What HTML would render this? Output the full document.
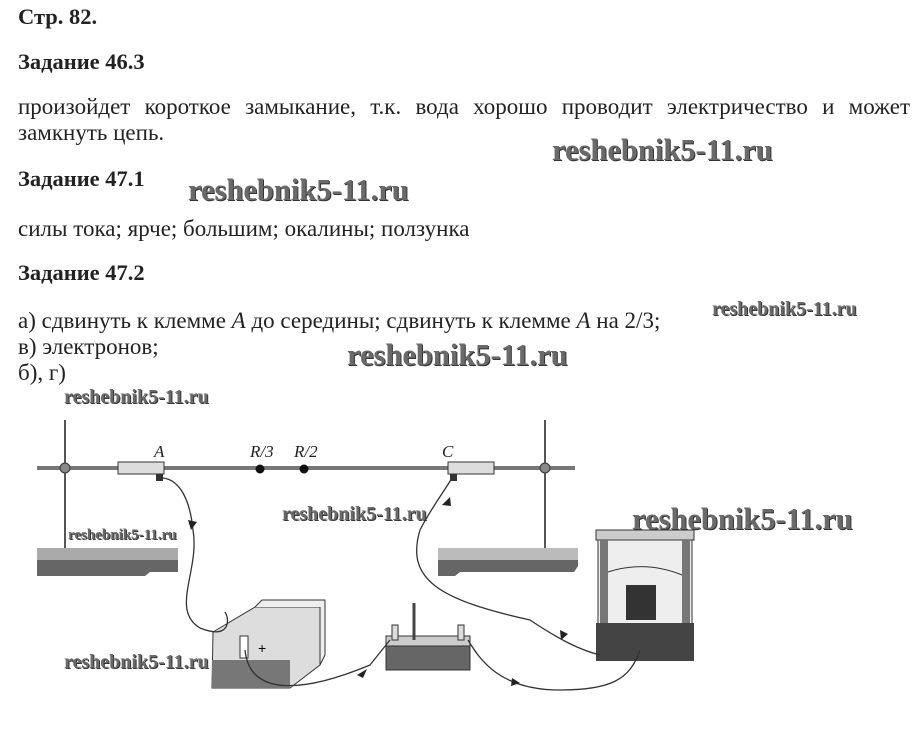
<!DOCTYPE html>
<html><head><meta charset="utf-8"><style>
html,body{margin:0;padding:0;background:#fff;width:922px;height:740px;overflow:hidden;position:relative}
.t{position:absolute;font-family:"Liberation Serif",serif;font-size:23px;color:#222;white-space:nowrap;line-height:1}
.b{font-weight:bold;font-size:22.5px}
.w{position:absolute;font-family:"Liberation Serif",serif;font-weight:bold;color:#6a6a6a;white-space:nowrap;line-height:1;text-shadow:1px 1px 0 #333}
</style></head><body>
<div class="t b" style="left:18px;top:6px">Стр. 82.</div>
<div class="t b" style="left:18px;top:51px">Задание 46.3</div>
<div class="t" style="left:18px;top:95px;width:892px;text-align:justify;text-align-last:justify;white-space:normal">произойдет короткое замыкание, т.к. вода хорошо проводит электричество и может</div>
<div class="t" style="left:18px;top:121px">замкнуть цепь.</div>
<div class="t b" style="left:18px;top:168px">Задание 47.1</div>
<div class="t" style="left:18px;top:217px">силы тока; ярче; большим; окалины; ползунка</div>
<div class="t b" style="left:18px;top:262px">Задание 47.2</div>
<div class="t" style="left:18px;top:309px">а) сдвинуть к клемме <i>A</i> до середины; сдвинуть к клемме <i>A</i> на 2/3;</div>
<div class="t" style="left:18px;top:335px">в) электронов;</div>
<div class="t" style="left:18px;top:361px">б), г)</div>

<div class="w" style="left:552px;top:135px;font-size:30.5px">reshebnik5-11.ru</div>
<div class="w" style="left:188px;top:175px;font-size:30.5px">reshebnik5-11.ru</div>
<div class="w" style="left:712px;top:299px;font-size:20px">reshebnik5-11.ru</div>
<div class="w" style="left:347px;top:340px;font-size:30.5px">reshebnik5-11.ru</div>
<div class="w" style="left:64px;top:387px;font-size:20px">reshebnik5-11.ru</div>
<div class="w" style="left:282px;top:504px;font-size:20px">reshebnik5-11.ru</div>
<div class="w" style="left:632px;top:504px;font-size:30.5px">reshebnik5-11.ru</div>
<div class="w" style="left:68px;top:528px;font-size:15px">reshebnik5-11.ru</div>
<div class="w" style="left:64px;top:652px;font-size:20px">reshebnik5-11.ru</div>

<svg style="position:absolute;left:0;top:0" width="922" height="740">
<g stroke="#555" fill="none">
<line x1="65" y1="420" x2="65" y2="552" stroke-width="2"/>
<line x1="545" y1="420" x2="545" y2="552" stroke-width="2"/>
<line x1="37" y1="468" x2="575" y2="468" stroke-width="4" stroke="#777"/>
</g>
<circle cx="65" cy="468" r="5" fill="#888" stroke="#333"/>
<circle cx="545" cy="468" r="5" fill="#888" stroke="#333"/>
<path d="M37 548 H178 V572 H150 L145 576 H37 Z" fill="#666"/>
<rect x="37" y="548" width="141" height="12" fill="#aaa"/>
<path d="M438 548 H578 V566 L574 572 H460 L455 576 H438 Z" fill="#666"/>
<rect x="438" y="548" width="140" height="12" fill="#bbb"/>
<rect x="118" y="462" width="46" height="12" fill="#ddd" stroke="#333"/>
<rect x="156" y="474" width="7" height="7" fill="#333"/>
<rect x="448" y="462" width="46" height="12" fill="#ddd" stroke="#333"/>
<rect x="450" y="474" width="7" height="7" fill="#333"/>
<circle cx="260" cy="469" r="4.5" fill="#111"/>
<circle cx="304" cy="469" r="4.5" fill="#111"/>
<g font-family="Liberation Serif,serif" font-style="italic" font-size="17" fill="#222">
<text x="154" y="457">A</text><text x="250" y="457">R/3</text><text x="294" y="457">R/2</text><text x="442" y="457">C</text>
</g>
<path d="M213 632 L255 607 H320 V665 L290 688 H212 Z" fill="#ddd" stroke="#333"/>
<path d="M255 607 L262 600 H325 V655 L320 665 V607" fill="#eee" stroke="#333"/>
<rect x="212" y="660" width="78" height="28" fill="#777"/>
<rect x="240" y="636" width="8" height="22" fill="#fff" stroke="#333"/>
<text x="258" y="653" font-size="14" font-family="Liberation Sans">+</text>
<rect x="386" y="640" width="84" height="30" fill="#666" stroke="#333"/>
<rect x="386" y="636" width="84" height="10" fill="#ccc" stroke="#333"/>
<line x1="414" y1="603" x2="414" y2="640" stroke="#444" stroke-width="3"/>
<rect x="392" y="625" width="6" height="15" fill="#ddd" stroke="#333"/>
<rect x="458" y="625" width="6" height="15" fill="#ddd" stroke="#333"/>
<rect x="596" y="530" width="98" height="10" fill="#ccc" stroke="#333"/>
<rect x="598" y="540" width="94" height="85" fill="#eee" stroke="#333"/>
<rect x="600" y="540" width="8" height="85" fill="#777"/>
<rect x="682" y="540" width="8" height="85" fill="#777"/>
<rect x="626" y="585" width="30" height="35" fill="#333"/>
<path d="M608 572 Q645 560 682 575" stroke="#333" fill="none"/>
<rect x="596" y="623" width="98" height="38" fill="#444"/>
<g stroke="#333" fill="none" stroke-width="1.3">
<path d="M163 478 C180 480 190 500 193 530 C200 570 170 610 200 628 C230 640 230 620 225 612"/>
<path d="M245 650 C250 700 310 690 370 665 L390 640"/>
<path d="M452 478 C445 490 430 510 420 530 C405 580 440 600 530 620 C560 640 580 650 600 655"/>
<path d="M468 640 C480 660 500 690 560 690 C610 690 630 680 640 650"/>
</g>
<g fill="#222">
<path d="M188 520 l9 2 l-6 8 z"/><path d="M450 497 l-8 8 l9 1 z"/>
<path d="M357 675 l10 -6 l-4 9 z"/><path d="M560 630 l8 4 l-7 6 z"/><path d="M512 678 l8 5 l-9 3 z"/>
</g>
</svg>
</body></html>
